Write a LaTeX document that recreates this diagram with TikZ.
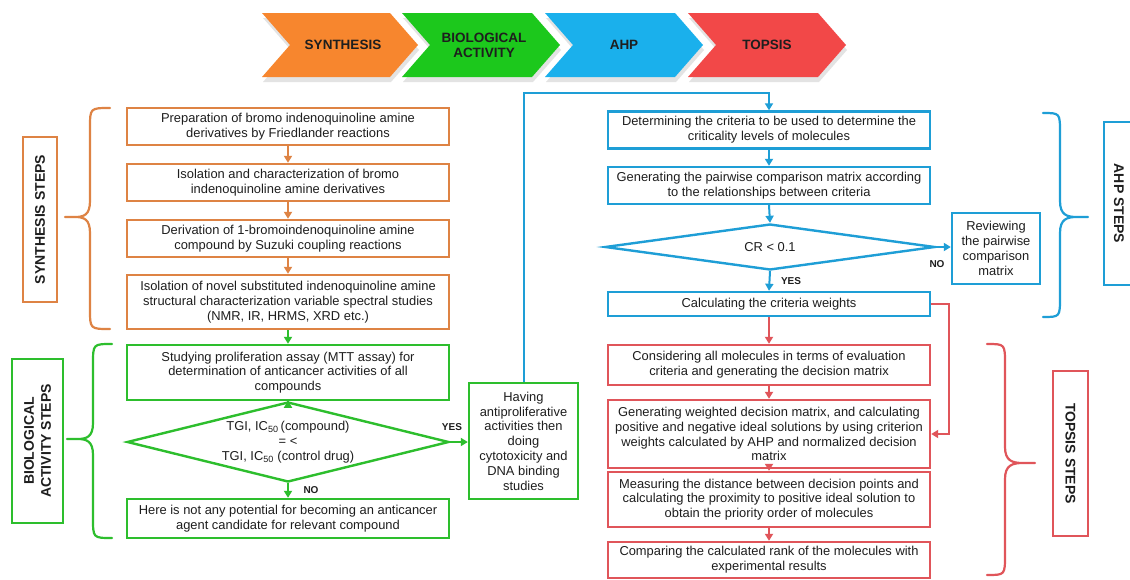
\documentclass[tikz,border=0pt]{standalone}
\usepackage{fontspec}
\setmainfont{Liberation Sans}
\usetikzlibrary{arrows.meta,shapes.geometric,shadows}
\definecolor{ocol}{HTML}{DE8344}
\definecolor{gcol}{HTML}{2DBE2D}
\definecolor{bcol}{HTML}{1E9ED6}
\definecolor{rcol}{HTML}{E0555A}
\definecolor{obn}{HTML}{F7862E}
\definecolor{gbn}{HTML}{1CC81C}
\definecolor{bbn}{HTML}{1AB0EC}
\definecolor{rbn}{HTML}{F24848}
\definecolor{txt}{HTML}{1E1E1E}
\newcommand\bxf{\fontsize{12.9}{14.8}\selectfont}
\newcommand\lbf{\fontsize{14}{17}\selectfont\bfseries}
\newcommand\BrL[7]{%
  \draw[#1,line width=2.2pt,line join=round,line cap=round]
    (#2,#5) .. controls (#3,#5) .. (#3,#5+20) -- (#3,#7-16)
    .. controls (#3,#7-2) and ({#3+0.25*(#4-#3)},#7) .. ({#3+0.6*(#4-#3)},#7) -- (#4,#7)
    -- ({#3+0.6*(#4-#3)},#7) .. controls ({#3+0.25*(#4-#3)},#7) and (#3,#7+2) .. (#3,#7+16)
    -- (#3,#6-20) .. controls (#3,#6) .. (#2,#6);}
\tikzset{
  box/.style={draw, rectangle, line width=2.4pt, align=center, inner sep=2pt, font=\bxf, text=txt},
  obox/.style={box, draw=ocol},
  gbox/.style={box, draw=gcol},
  bbox/.style={box, draw=bcol},
  rbox/.style={box, draw=rcol},
  labbox/.style={draw, rectangle, line width=2.4pt, align=center, inner sep=2pt, font=\lbf, text=txt},
  dia/.style={diamond, draw, line width=2.4pt, inner sep=0pt},
  arr/.style={line width=2pt, -{Triangle[length=7pt,width=8pt]}},
  oarr/.style={arr, draw=ocol},
  garr/.style={arr, draw=gcol},
  barr/.style={arr, draw=bcol},
  rarr/.style={arr, draw=rcol},
  small/.style={font=\fontsize{10}{12}\selectfont\bfseries, text=txt},
  bantxt/.style={font=\fontsize{13.5}{15}\selectfont\bfseries, text=txt, align=center},
  chev/.style={drop shadow={opacity=0.22, shadow xshift=1pt, shadow yshift=-5pt}}
}
\begin{document}
\begin{tikzpicture}[x=1pt,y=-1pt]
\useasboundingbox (0,0) rectangle (1130,579);
\fill[white] (0,0) rectangle (1130,579);

% banner chevrons
\fill[obn,chev] (262,13) -- (390,13) -- (418,45) -- (390,77) -- (262,77) -- (290,45) -- cycle;
\fill[gbn,chev] (402,13) -- (532,13) -- (560,45) -- (532,77) -- (402,77) -- (430,45) -- cycle;
\fill[bbn,chev] (545,13) -- (675,13) -- (703,45) -- (675,77) -- (545,77) -- (573,45) -- cycle;
\fill[rbn,chev] (688,13) -- (818,13) -- (846,45) -- (818,77) -- (688,77) -- (716,45) -- cycle;
\node[bantxt] (bn1) at (343,45) {SYNTHESIS};
\node[bantxt] (bn2) at (484,45) {BIOLOGICAL\\ACTIVITY};
\node[bantxt] (bn3) at (624,45) {AHP};
\node[bantxt] (bn4) at (767,45) {TOPSIS};

% synthesis
\node[obox, minimum width=322, minimum height=37] (s1) at (288,126.5)
  {Preparation of bromo indenoquinoline amine\\derivatives by Friedlander reactions};
\node[obox, minimum width=322, minimum height=37] (s2) at (288,182.5)
  {Isolation and characterization of bromo\\indenoquinoline amine derivatives};
\node[obox, minimum width=322, minimum height=37] (s3) at (288,238.5)
  {Derivation of 1-bromoindenoquinoline amine\\compound by Suzuki coupling reactions};
\node[obox, minimum width=322, minimum height=54] (s4) at (288,302)
  {Isolation of novel substituted indenoquinoline amine\\structural characterization variable spectral studies\\(NMR, IR, HRMS, XRD etc.)};
\draw[oarr] (s1) -- (s2);
\draw[oarr] (s2) -- (s3);
\draw[oarr] (s3) -- (s4);
\node[labbox, draw=ocol, minimum width=165, minimum height=34, rotate=90] (slab) at (40,219.5) {SYNTHESIS STEPS};
\BrL{ocol}{110}{90}{65}{108}{329}{217}

% biological
\node[gbox, minimum width=322, minimum height=55] (g1) at (288,372.5)
  {Studying proliferation assay (MTT assay) for\\determination of anticancer activities of all\\compounds};
\draw[garr] (s4) -- (g1);
\node[dia, draw=gcol, minimum width=322, minimum height=80] (gd) at (288,442) {};
\node[font=\bxf, text=txt, align=center] (gdt) at (gd.center)
  {TGI, IC\textsubscript{50}\,(compound)\\= <\\TGI, IC\textsubscript{50} (control drug)};
\draw[garr] (g1) -- (gd.north);
\node[gbox, minimum width=322, minimum height=39] (g3) at (288,518.5)
  {Here is not any potential for becoming an anticancer\\agent candidate for relevant compound};
\node[gbox, minimum width=109, minimum height=116] (hv) at (523.5,441)
  {Having\\antiproliferative\\activities then\\doing\\cytotoxicity and\\DNA binding\\studies};
\draw[garr] (gd.east) -- (gd.east -| hv.west);
\draw[garr] (gd.south) -- (g3.north);
\node[small] (yes1) at (452,427) {YES};
\node[small] (no1) at (311,490) {NO};
\node[labbox, draw=gcol, minimum width=164, minimum height=51, rotate=90] (glab) at (37.5,441) {BIOLOGICAL\\ACTIVITY STEPS};
\BrL{gcol}{112}{93}{67}{344}{538}{439}

% AHP
\node[bbox, minimum width=322, minimum height=37] (a1) at (769,130)
  {Determining the criteria to be used to determine the\\criticality levels of molecules};
\node[bbox, minimum width=322, minimum height=37] (a2) at (769,185.5)
  {Generating the pairwise comparison matrix according\\to the relationships between criteria};
\node[dia, draw=bcol, minimum width=330, minimum height=46] (ad) at (770,247) {};
\node[font=\bxf, text=txt] (adt) at (ad.center) {CR < 0.1};
\node[bbox, minimum width=88, minimum height=71] (rv) at (996,248.5)
  {Reviewing\\the pairwise\\comparison\\matrix};
\node[bbox, minimum width=322, minimum height=24] (a4) at (769,304)
  {Calculating the criteria weights};
\coordinate (ctop) at (700,93);
\draw[barr] (hv.north) -- (hv.north |- ctop) -| (a1.north);
\draw[barr] (a1) -- (a2);
\draw[barr] (a2.south) -- (ad.north);
\draw[barr] (ad.east) -- (ad.east -| rv.west);
\draw[barr] (ad.south) -- (a4.north);
\node[small] (no2) at (937,264) {NO};
\node[small] (yes2) at (791,281) {YES};
\node[labbox, draw=bcol, minimum width=163, minimum height=30, rotate=-90] (alab) at (1119,203.5) {AHP STEPS};
\BrL{bcol}{1043}{1060}{1088}{113}{317}{217}

% TOPSIS
\node[rbox, minimum width=322, minimum height=40] (t1) at (769,365)
  {Considering all molecules in terms of evaluation\\criteria and generating the decision matrix};
\node[rbox, minimum width=322, minimum height=68] (t2) at (769,434)
  {Generating weighted decision matrix, and calculating\\positive and negative ideal solutions by using criterion\\weights calculated by AHP and normalized decision\\matrix};
\node[rbox, minimum width=322, minimum height=55] (t3) at (769,499.5)
  {Measuring the distance between decision points and\\calculating the proximity to positive ideal solution to\\obtain the priority order of molecules};
\node[rbox, minimum width=322, minimum height=36] (t4) at (769,560)
  {Comparing the calculated rank of the molecules with\\experimental results};
\coordinate (rs) at (949,0);
\draw[rarr] (a4) -- (t1);
\draw[rarr] (t1) -- (t2);
\draw[rarr] (t2) -- (t3);
\draw[rarr] (t3) -- (t4);
\draw[rarr] (a4.east) -- (a4.east -| rs) |- (t2.east);
\node[labbox, draw=rcol, minimum width=165, minimum height=35, rotate=-90] (tlab) at (1070.5,453.5) {TOPSIS STEPS};
\BrL{rcol}{987}{1005}{1035}{344}{575}{463}
\end{tikzpicture}
\end{document}
